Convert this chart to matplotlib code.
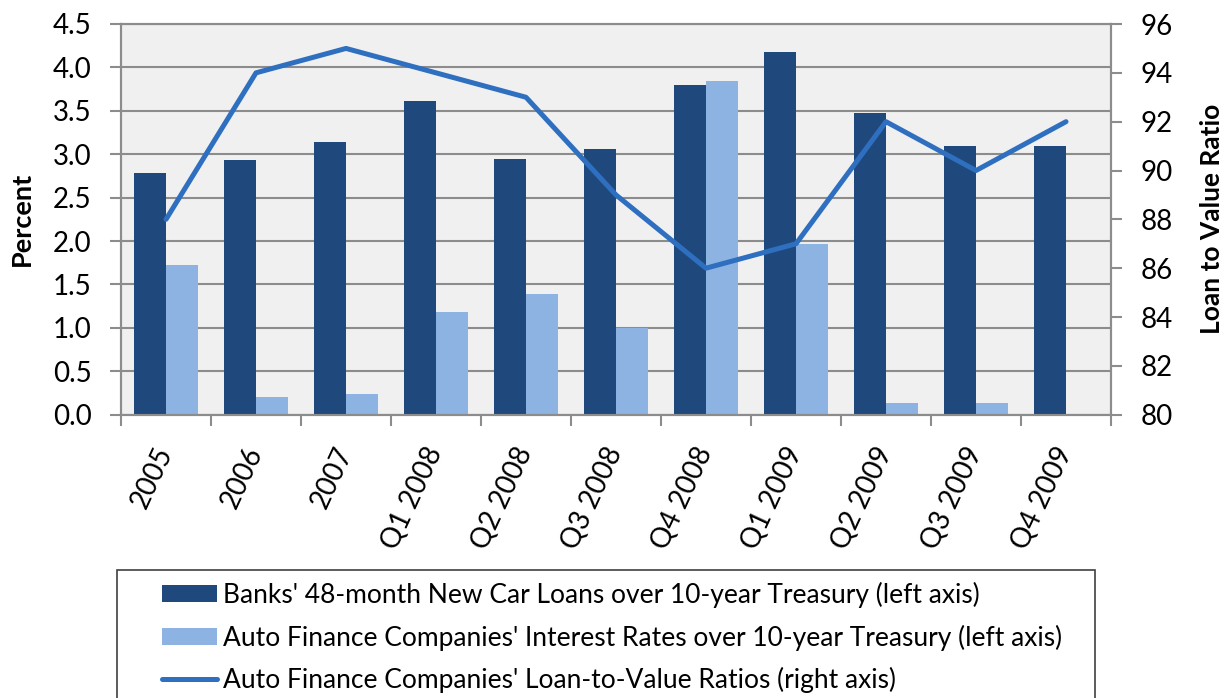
import numpy as np
import matplotlib.pyplot as plt
from matplotlib.patches import Rectangle

plt.rcParams["font.family"] = ["Lato", "DejaVu Sans"]

# Data
periods = ["2005", "2006", "2007", "Q1 2008", "Q2 2008", "Q3 2008",
           "Q4 2008", "Q1 2009", "Q2 2009", "Q3 2009", "Q4 2009"]
banks_spread = [2.78, 2.93, 3.14, 3.61, 2.95, 3.06, 3.80, 4.18, 3.47, 3.10, 3.09]
finance_spread = [1.72, 0.20, 0.24, 1.18, 1.39, 1.00, 3.84, 1.97, 0.135, 0.14, 0.0]
ltv_ratio = [88, 94, 95, 94, 93, 89, 86, 87, 92, 90, 92]

dark_blue = "#1F497D"
light_blue = "#8DB3E2"
line_blue = "#2E6FC0"
grid_gray = "#8C8C8C"

W, H = 1232, 698
fig = plt.figure(figsize=(W / 100, H / 100), dpi=100)
ax = fig.add_axes([121 / W, 1 - 414.7 / H, 990 / W, 390.7 / H])
ax.set_facecolor("#F0F0F0")

x = np.arange(len(periods))
w = 0.355
b1 = ax.bar(x - w / 2, banks_spread, w, color=dark_blue,
            label="Banks' 48-month New Car Loans over 10-year Treasury (left axis)")
b2 = ax.bar(x + w / 2, finance_spread, w, color=light_blue,
            label="Auto Finance Companies' Interest Rates over 10-year Treasury (left axis)")

ax.set_xlim(-0.5, len(periods) - 0.5)
ax.set_ylim(0, 4.5)
ax.set_yticks(np.arange(0, 4.51, 0.5))
ax.set_yticklabels([f"{v:.1f}" for v in np.arange(0, 4.51, 0.5)])
ax.set_axisbelow(True)
ax.yaxis.grid(True, color=grid_gray, linewidth=1.5)

# category boundaries get tick marks, labels sit in the middle
ax.set_xticks(np.arange(-0.5, len(periods), 1.0))
ax.set_xticklabels([])
ax.set_xticks(x, minor=True)
ax.set_xticklabels(periods, minor=True, rotation=65, ha="right", va="center",
                   rotation_mode="anchor", fontsize=20)
ax.tick_params(axis="x", which="minor", length=0, pad=24)
ax.tick_params(axis="x", which="major", length=8, width=1.5, color=grid_gray)
ax.tick_params(axis="y", length=8, width=1.5, color=grid_gray, labelsize=20, pad=13)
for s in ax.spines.values():
    s.set_color(grid_gray)
    s.set_linewidth(1.5)
ax.set_ylabel("Percent", fontsize=19.5, fontweight="bold")
ax.yaxis.set_label_coords(-87 / 990, 0.5)

ax2 = ax.twinx()
ln, = ax2.plot(x, ltv_ratio, color=line_blue, linewidth=3.6,
               solid_capstyle="round",
               label="Auto Finance Companies' Loan-to-Value Ratios (right axis)")
ax2.set_ylim(80, 96)
ax2.set_yticks(np.arange(80, 97, 2))
ax2.tick_params(axis="y", length=8, width=1.5, color=grid_gray, labelsize=20, pad=13)
for s in ax2.spines.values():
    s.set_color(grid_gray)
    s.set_linewidth(1.5)
ax2.set_ylabel("Loan to Value Ratio", fontsize=19, fontweight="bold")
ax2.yaxis.set_label_coords(1 + 89 / 990, 0.5)

# legend box runs off the bottom of the figure, as in the original
fig.patches.append(Rectangle((117 / W, -0.05), (1095 - 117) / W, 0.05 + 1 - 570 / H,
                             transform=fig.transFigure, facecolor="white",
                             edgecolor="#404040", linewidth=1.2, zorder=0))
leg = fig.legend(handles=[b1, b2, ln], loc="upper left",
                 bbox_to_anchor=(162 / W, 1 - 582 / H),
                 fontsize=19, frameon=False,
                 handlelength=2.1, handleheight=0.6, handletextpad=0.2,
                 labelspacing=0.62, borderpad=0, borderaxespad=0)

fig.savefig("out.png", dpi=100)
